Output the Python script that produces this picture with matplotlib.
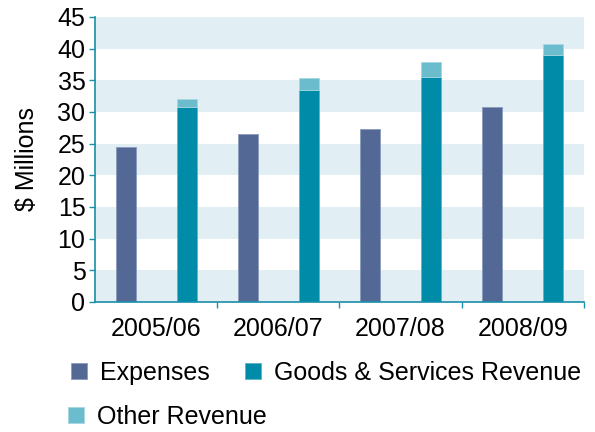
import matplotlib.pyplot as plt
import numpy as np

plt.rcParams['font.family'] = ['Liberation Sans', 'DejaVu Sans']

# Annual figures ($ millions)
years = ['2005/06', '2006/07', '2007/08', '2008/09']
expenses = [24.5, 26.5, 27.3, 30.7]
goods_services = [30.8, 33.5, 35.5, 39.0]
other_revenue = [1.2, 1.8, 2.3, 1.7]

c_exp = '#546895'
c_goods = '#008ba8'
c_other = '#6bbccc'
c_axis = '#1a8fa8'
c_band = '#e1eef3'

fig = plt.figure(figsize=(5.95, 4.32), dpi=100)
ax = fig.add_axes([0.16, 0.301, 0.821, 0.66])

# alternating horizontal bands
for lo in range(0, 45, 10):
    ax.axhspan(lo, lo + 5, color=c_band, zorder=0, lw=0)

x = np.arange(len(years))
w = 0.165
b1 = ax.bar(x - 0.25, expenses, w, color=c_exp, edgecolor='#8a9abb', lw=0.6, zorder=2)
b2 = ax.bar(x + 0.25, goods_services, w, color=c_goods, edgecolor='#5fb3c6', lw=0.6, zorder=2)
b3 = ax.bar(x + 0.25, other_revenue, w, bottom=goods_services, color=c_other,
            edgecolor='#a6d7e2', lw=0.6, zorder=2)

ax.set_xlim(-0.5, 3.5)
ax.set_ylim(0, 45)
ax.set_yticks(range(0, 46, 5))
ax.set_xticks(x)
ax.set_xticklabels(years)
ax.set_xticks(np.arange(0.5, 4, 1), minor=True)

for s in ['top', 'right']:
    ax.spines[s].set_visible(False)
for s in ['left', 'bottom']:
    ax.spines[s].set_color(c_axis)
    ax.spines[s].set_linewidth(1.2)

ax.tick_params(axis='y', length=4, color=c_axis, width=1, labelsize=18, pad=3)
ax.tick_params(axis='x', which='major', length=0, labelsize=18, pad=11)
ax.tick_params(axis='x', which='minor', length=4, color=c_axis, width=1)
ax.set_ylabel('$ Millions', fontsize=18, labelpad=13)

fig.legend([b1, b2], ['Expenses', 'Goods & Services Revenue'], ncol=2,
           loc='center left', bbox_to_anchor=(0.119, 0.137), frameon=False,
           fontsize=18, handlelength=0.64, handleheight=0.64,
           handletextpad=0.52, columnspacing=1.4, borderpad=0, borderaxespad=0)
fig.legend([b3], ['Other Revenue'], loc='center left', bbox_to_anchor=(0.114, 0.035),
           frameon=False, fontsize=18, handlelength=0.64, handleheight=0.64,
           handletextpad=0.52, borderpad=0, borderaxespad=0)

fig.savefig('out.png', dpi=100)
